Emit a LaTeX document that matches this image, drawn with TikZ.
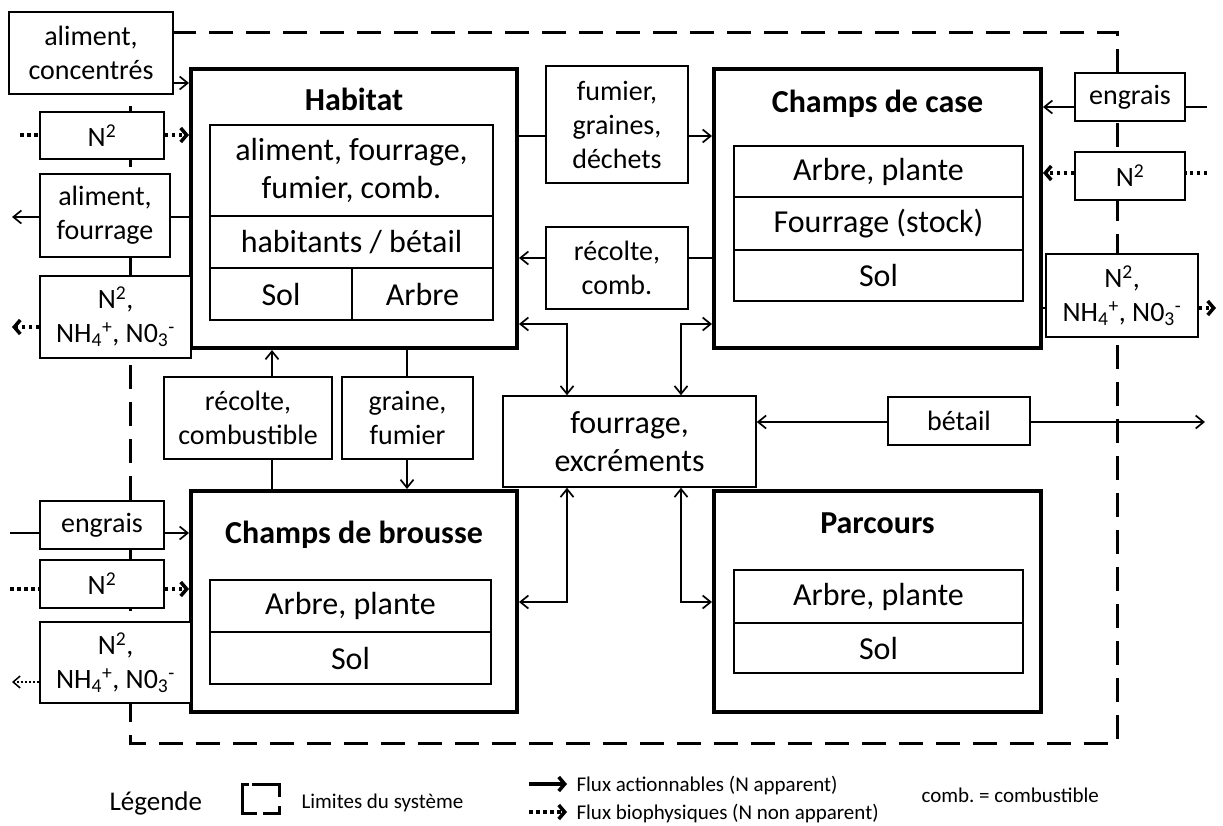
\documentclass[tikz,border=0pt]{standalone}
\usepackage{fontspec}
\setmainfont{Carlito}
\usetikzlibrary{arrows.meta}
\newcommand{\fsz}[2]{\fontsize{#1}{#2}\selectfont}
\frenchspacing
\begin{document}
\begin{tikzpicture}[x=1pt,y=-1pt,
 flux/.style={draw, line width=1.5pt, fill=white, inner sep=0pt, align=center, font=\fsz{28}{34}},
 mainbox/.style={draw, line width=4pt, fill=white, inner sep=0pt},
 cell/.style={draw, line width=1.5pt, inner sep=0pt, align=center, font=\fsz{32}{38}},
 ttl/.style={font=\bfseries\fsz{32}{38}, anchor=base},
 conn/.style={line width=1.7pt},
 arr/.style={conn, -{Straight Barb[length=8pt,width=13pt]}},
 darr/.style={conn, {Straight Barb[length=8pt,width=13pt]}-{Straight Barb[length=8pt,width=13pt]}},
 dotl/.style={line width=3.5pt, dash pattern=on 3.5pt off 3.5pt},
 dotarr/.style={dotl, -{Straight Barb[length=6pt,width=14pt]}},
 thindot/.style={line width=1.5pt, dash pattern=on 2pt off 2pt, -{Straight Barb[length=7pt,width=12pt]}},
 bound/.style={line width=3pt, dash pattern=on 24pt off 13pt},
 leg/.style={font=\fsz{21}{25}, anchor=base west},
]
\useasboundingbox (0,0) rectangle (1223,825);
% system boundary
\draw[bound] (130,32) rectangle (1117,743);

% main boxes
\node[mainbox, minimum width=326pt, minimum height=279pt] (hab)  at (354,208.5) {};
\node[mainbox, minimum width=327pt, minimum height=279pt] (case) at (877.5,208.5) {};
\node[mainbox, minimum width=326pt, minimum height=221pt] (brou) at (354,601.5) {};
\node[mainbox, minimum width=327pt, minimum height=221pt] (parc) at (877.5,601.5) {};
\node[ttl] (habt)  at (354,110) {Habitat};
\node[ttl] (caset) at (877.5,112) {Champs de case};
\node[ttl] (brout) at (354,543) {Champs de brousse};
\node[ttl] (parct) at (877.5,533) {Parcours};

% cells
\node[cell, minimum width=283pt, minimum height=91pt] (h1) at (351.5,170.5) {aliment, fourrage,\\fumier, comb.};
\node[cell, minimum width=283pt, minimum height=52pt] (h2) at (351.5,242) {habitants / bétail};
\node[cell, minimum width=142pt, minimum height=52pt] (h3) at (281,294) {Sol};
\node[cell, minimum width=141pt, minimum height=52pt] (h4) at (422.5,294) {Arbre};
\node[cell, minimum width=289pt, minimum height=51pt] (c1) at (878.5,171.5) {Arbre, plante};
\node[cell, minimum width=289pt, minimum height=53pt] (c2) at (878.5,223.5) {Fourrage (stock)};
\node[cell, minimum width=289pt, minimum height=51pt] (c3) at (878.5,275.5) {Sol};
\node[cell, minimum width=281pt, minimum height=52pt] (b1) at (350.5,606) {Arbre, plante};
\node[cell, minimum width=281pt, minimum height=52pt] (b2) at (350.5,658) {Sol};
\node[cell, minimum width=289pt, minimum height=53pt] (p1) at (878.5,596.5) {Arbre, plante};
\node[cell, minimum width=289pt, minimum height=50pt] (p2) at (878.5,648) {Sol};

% flux boxes
\node[flux, minimum width=164pt, minimum height=82pt] (alimc) at (91,53) {aliment,\\concentrés};
\node[flux, minimum width=124pt, minimum height=47pt] (n2a) at (102,135.5) {N\textsuperscript{2}};
\node[flux, minimum width=130pt, minimum height=83pt] (alimf) at (105,215.5) {aliment,\\fourrage};
\node[flux, minimum width=151pt, minimum height=82pt] (nha) at (115.5,317) {N\textsuperscript{2},\\NH\textsubscript{4}\textsuperscript{+}, N0\textsubscript{3}\textsuperscript{-}};
\node[flux, minimum width=142pt, minimum height=117pt] (fum) at (617,124.5) {fumier,\\graines,\\déchets};
\node[flux, minimum width=142pt, minimum height=82pt] (rec) at (617,268) {récolte,\\comb.};
\node[flux, minimum width=168pt, minimum height=82pt] (recb) at (248,418) {récolte,\\combustible};
\node[flux, minimum width=131pt, minimum height=82pt] (gra) at (407.5,418) {graine,\\fumier};
\node[flux, minimum width=253pt, minimum height=91pt, font=\fsz{32}{38}] (four) at (629.5,441.5) {fourrage,\\excréments};
\node[flux, minimum width=142pt, minimum height=48pt] (bet) at (959,421) {bétail};
\node[flux, minimum width=110pt, minimum height=48pt] (engr) at (1130,97) {engrais};
\node[flux, minimum width=110pt, minimum height=48pt] (n2r) at (1130,176) {N\textsuperscript{2}};
\node[flux, minimum width=152pt, minimum height=83pt] (nhr) at (1122,295.5) {N\textsuperscript{2},\\NH\textsubscript{4}\textsuperscript{+}, N0\textsubscript{3}\textsuperscript{-}};
\node[flux, minimum width=124pt, minimum height=48pt] (engl) at (102,525) {engrais};
\node[flux, minimum width=124pt, minimum height=48pt] (n2l) at (102,584) {N\textsuperscript{2}};
\node[flux, minimum width=151pt, minimum height=81pt] (nhl) at (115.5,662.5) {N\textsuperscript{2},\\NH\textsubscript{4}\textsuperscript{+}, N0\textsubscript{3}\textsuperscript{-}};

% helper coordinates
\coordinate (y83) at (0,83);
\coordinate (l135) at (20,135);
\coordinate (y217) at (0,217);
\coordinate (l217) at (12,217);
\coordinate (l327) at (12,327);
\coordinate (y136) at (0,136);
\coordinate (y258) at (0,258);
\coordinate (y324) at (0,324);
\coordinate (y602) at (0,602);
\coordinate (x567) at (567,0);
\coordinate (x681) at (681,0);
\coordinate (y422) at (0,422);
\coordinate (r422) at (1205,422);
\coordinate (r107) at (1207,107);
\coordinate (r173) at (1207,173);
\coordinate (r308) at (1216,308);
\coordinate (x272) at (272,0);
\coordinate (x407) at (407,0);
\coordinate (l533) at (10,533);
\coordinate (l589) at (10,589);
\coordinate (l682) at (12,682);

% connectors
\draw[arr] (alimc.east |- y83) -- (hab.west |- y83);
\draw[dotl] (l135) -- (n2a.west |- l135);
\draw[dotarr] (n2a.east |- l135) -- (hab.west |- l135);
\draw[conn] (hab.west |- y217) -- (alimf.east |- y217);
\draw[arr] (alimf.west |- l217) -- (l217);
\draw[dotarr] (nha.west |- l327) -- (l327);
\draw[conn] (hab.east |- y136) -- (fum.west |- y136);
\draw[arr] (fum.east |- y136) -- (case.west |- y136);
\draw[conn] (case.west |- y258) -- (rec.east |- y258);
\draw[arr] (rec.west |- y258) -- (hab.east |- y258);
\draw[darr] (hab.east |- y324) -| (four.north -| x567);
\draw[darr] (case.west |- y324) -| (four.north -| x681);
\draw[darr] (brou.east |- y602) -| (four.south -| x567);
\draw[darr] (parc.west |- y602) -| (four.south -| x681);
\draw[arr] (bet.west |- y422) -- (four.east |- y422);
\draw[arr] (bet.east |- y422) -- (r422);
\draw[arr] (engr.west |- r107) -- (case.east |- r107);
\draw[conn] (engr.east |- r107) -- (r107);
\draw[dotl] (r173) -- (n2r.east |- r173);
\draw[dotarr] (n2r.west |- r173) -- (case.east |- r173);
\draw[conn] (case.east |- r308) -- (nhr.west |- r308);
\draw[dotarr] (nhr.east |- r308) -- (r308);
\draw[arr] (recb.north -| x272) -- (hab.south -| x272);
\draw[conn] (brou.north -| x272) -- (recb.south -| x272);
\draw[conn] (hab.south -| x407) -- (gra.north -| x407);
\draw[arr] (gra.south -| x407) -- (brou.north -| x407);
\draw[conn] (l533) -- (engl.west |- l533);
\draw[arr] (engl.east |- l533) -- (brou.west |- l533);
\draw[dotl] (l589) -- (n2l.west |- l589);
\draw[dotarr] (n2l.east |- l589) -- (brou.west |- l589);
\draw[thindot] (nhl.west |- l682) -- (l682);

% legend
\node[font=\fsz{27}{32}, anchor=base west] (legt) at (106,810) {Légende};
\draw[line width=3pt] (249,784) -- (242,784) -- (242,813) -- (257,813);
\draw[line width=3pt] (252,784) -- (279,784) -- (279,797);
\draw[line width=3pt] (263,813) -- (279,813) -- (279,806);
\node[leg] (legb) at (298,808) {Limites du système};
\coordinate (la1) at (529,784);
\coordinate (la2) at (567,784);
\coordinate (lb1) at (529,812);
\coordinate (lb2) at (567,812);
\draw[line width=3.5pt, -{Straight Barb[length=6pt,width=14pt]}] (la1) -- (la2);
\draw[dotarr] (lb1) -- (lb2);
\node[leg] (lf1) at (573,791) {Flux actionnables (N apparent)};
\node[leg] (lf2) at (573,819) {Flux biophysiques (N non apparent)};
\node[leg] (lc) at (918,802) {comb. = combustible};
\end{tikzpicture}
\end{document}
